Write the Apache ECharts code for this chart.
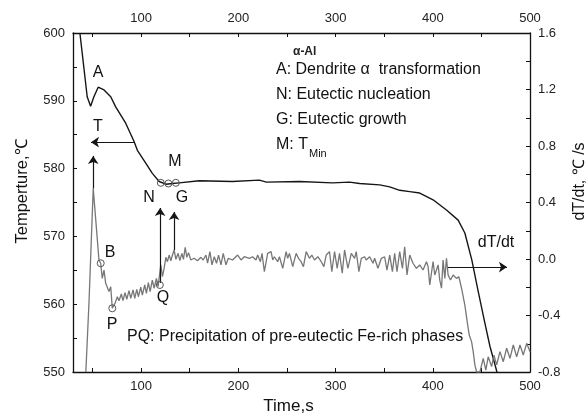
<!DOCTYPE html>
<html><head><meta charset="utf-8">
<script src="https://cdn.jsdelivr.net/npm/echarts@6.0.0/dist/echarts.min.js"></script>
<style>html,body{margin:0;padding:0;background:#fff;overflow:hidden}#c{width:588px;height:417px}</style>
</head><body><div id="c"></div>
<script>
// ---- data ----
const xTickLabels = [100, 200, 300, 400, 500];
const xTicks = [50, 100, 150, 200, 250, 300, 350, 400, 450, 500];

// Temperature curve (left axis)
const tTime = [37.1, 44.6, 48.1, 51.5, 55.9, 61.9, 68.8, 73.9, 84.2, 92.8, 96.2, 104.8, 111.6, 118.6, 125.5, 132.3, 139.2, 159.8, 193.8, 221.6, 228.9, 262.9, 296.9, 314.4, 324.7, 345.4, 355.7, 366, 376.3, 386.6, 400.3, 414.1, 426.1, 433, 440.2, 446.4, 453.6, 458.8, 466];
const tTemp = [600, 590.6, 589.2, 590.6, 592.0, 591.6, 590.6, 589.1, 586.7, 584.0, 582.7, 580.8, 579.3, 578.1, 577.7, 577.8, 577.9, 578.2, 578.1, 578.3, 578.0, 578.1, 577.9, 578.0, 577.8, 577.6, 577.3, 576.8, 576.6, 576.4, 575.4, 573.9, 572.4, 570.5, 566.5, 562.1, 557.2, 553.8, 550];

// dT/dt curve (right axis)
const dTime = [43.2, 46.5, 50.8, 56.7, 58.5, 60.1, 61.9, 63.6, 65.3, 67.0, 68.8, 70.4, 73.2, 75.6, 77.3, 79.7, 81.4, 83.5, 85.3, 87.6, 89.4, 91.8, 93.5, 95.6, 97.2, 99.7, 101.3, 103.8, 105.5, 107.5, 109.3, 111.6, 113.4, 115.8, 117.5, 119.3,
  120.3, 122, 123.7, 125.5, 127.1, 128.9, 130.6, 132.3, 134, 135.8, 138.1, 139.9, 142, 143.6, 145.4, 147.1, 148.8, 151.2, 154.6, 158, 161.5, 163.9, 166.7, 168.4, 170.8, 172.9, 175.3, 177.6, 179.7, 182.2, 184.5, 187.3, 189.7,
  190.7, 194.1, 199.3, 202.8, 206.2, 211.3, 214.7, 218.2, 219.9, 222.7, 224.4, 226.8, 230.2, 233.7, 235.4, 237.1, 240.5, 242.3, 245.7, 249.2, 250.8, 252.6, 256, 259.5, 261.9, 264.6, 267, 269.8, 273.2, 275.6, 278.4, 281.8, 285.3, 288, 290.4, 293.8, 296.2, 299, 301.7, 304.1, 306.9, 309.3, 312.7, 316.2, 319.6, 321.3, 324, 326.5, 329.9, 331.6, 335.1, 338.5, 340.2, 343.6, 347.1, 350.5,
  352.9, 355.7, 358.5, 360.8, 363.2, 366, 368.8, 371.1, 373.5, 376.3, 379.7, 383.2, 386.6, 390, 393.5, 395.2, 396.9, 400.3, 402.1, 405.5, 407.2, 409, 410.6, 412.4, 414.1, 415.8, 418.2, 420.9, 424.4, 426.8, 429.6, 433, 435.4, 437.5, 439.9, 441.6, 443.3, 445.1,
  448.5, 451.9, 454.6, 457, 460.5, 462.9, 465.7, 469.1, 472.5, 476, 479.4, 482.8, 486.3, 489.7, 493.1, 496.6, 500];
const dValue = [-0.80, -0.30, 0.50, -0.007, -0.03, -0.137, -0.078, -0.172, -0.16, -0.23, -0.196, -0.349, -0.314, -0.267, -0.295, -0.248, -0.295, -0.238, -0.285, -0.224, -0.278, -0.219, -0.278, -0.215, -0.267, -0.2, -0.255, -0.184, -0.243, -0.168, -0.231, -0.149, -0.207, -0.137, -0.196, -0.184,
  -0.042, -0.125, -0.066, 0.012, -0.019, 0.028, -0.012, 0.028, 0.064, -0.002, 0.04, -0.012, 0.04, -0.002, 0.083, 0.012, 0.045, -0.007, 0.005, -0.012, 0.012, -0.007, 0.028, -0.03, 0.052, -0.042, 0.016, -0.03, 0.028, -0.042, 0.04, -0.042, 0.005,
  0.016, -0.007, 0.028, -0.007, 0.016, 0.005, 0.016, -0.007, 0.028, -0.019, 0.04, -0.09, 0.04, 0.052, -0.007, 0.016, -0.019, 0.016, -0.066, 0.052, 0.005, 0.04, -0.054, 0.04, 0.005, -0.019, -0.054, 0.052, 0.005, 0.028, -0.007, 0.016, -0.019, -0.054, 0.028, 0.052, -0.09, 0.052, -0.066, 0.04, -0.101, 0.064, -0.066, 0.04, 0.005, 0.052, -0.09, 0.005, 0.016, -0.007, 0.016, -0.03, 0.005, -0.066, 0.005, 0.016,
  -0.078, 0.028, -0.09, 0.04, -0.09, 0.052, -0.066, 0.087, -0.113, 0.028, -0.03, -0.066, -0.042, -0.078, -0.019, -0.054, -0.184, -0.019, -0.113, -0.042, -0.149, -0.207, -0.007, -0.137, 0.005, -0.113, -0.149, -0.113, -0.137, -0.125, -0.207, -0.326, -0.444, -0.538, -0.585, -0.656, -0.75, -0.8,
  -0.8, -0.703, -0.786, -0.692, -0.762, -0.68, -0.75, -0.656, -0.727, -0.632, -0.703, -0.609, -0.692, -0.609, -0.68, -0.597, -0.656];

// annotation anchors (data coordinates)
const mPoints = [[120.3, 577.9], [128.1, 577.8], [135.8, 577.9]];
const bpqPoints = [[58.5, -0.03], [70.4, -0.349], [119.3, -0.184]];

const FONT = 'Arial, "Liberation Sans", Helvetica, sans-serif';
const chart = echarts.init(document.getElementById('c'), null, {renderer: 'canvas', width: 588, height: 417});

const axisCommon = {
  axisLine: {show: true, onZero: false, lineStyle: {color: '#111', width: 1.3}},
  splitLine: {show: false},
  axisLabel: {color: '#222', fontSize: 13, fontFamily: FONT, margin: 8}
};

const lineArrow = (a, b) => [{coord: a}, {coord: b}];
const lbl = (x, y, text, extra) => ({type: 'text', x: x, y: y, style: Object.assign({text: text, fontSize: 16, fontFamily: FONT, fill: '#111', align: 'center', verticalAlign: 'middle'}, extra || {})});

chart.setOption({
  animation: false,
  backgroundColor: '#fff',
  grid: {left: 73, right: 58, top: 33, bottom: 45, containLabel: false, outerBoundsMode: 'none'},
  xAxis: [
    Object.assign({}, axisCommon, {
      type: 'value', position: 'bottom', min: 30, max: 500,
      axisTick: {show: true, inside: true, length: 4, customValues: xTicks, lineStyle: {color: '#111'}},
      axisLabel: Object.assign({}, axisCommon.axisLabel, {customValues: xTickLabels}),
      name: 'Time,s', nameLocation: 'middle', nameGap: 23,
      nameTextStyle: {fontSize: 17, color: '#111', fontFamily: FONT, padding: [0, 26, 0, 0]}
    }),
    Object.assign({}, axisCommon, {
      type: 'value', position: 'top', min: 30, max: 500,
      axisTick: {show: true, inside: true, length: 4, customValues: xTicks, lineStyle: {color: '#111'}},
      axisLabel: Object.assign({}, axisCommon.axisLabel, {customValues: xTickLabels})
    })
  ],
  yAxis: [
    Object.assign({}, axisCommon, {
      type: 'value', position: 'left', min: 550, max: 600, interval: 10,
      axisTick: {show: true, inside: true, length: 4, lineStyle: {color: '#111'}},
      minorTick: {show: true, splitNumber: 2, length: 4, lineStyle: {color: '#111'}},
      name: 'Temperture,℃', nameLocation: 'middle', nameGap: 42, nameRotate: 90,
      nameTextStyle: {fontSize: 16.5, color: '#111', fontFamily: FONT, padding: [0, 0, 0, 22]}
    }),
    Object.assign({}, axisCommon, {
      type: 'value', position: 'right', min: -0.8, max: 1.6, interval: 0.4,
      axisTick: {show: true, inside: true, length: 4, lineStyle: {color: '#111'}},
      minorTick: {show: true, splitNumber: 2, length: 4, lineStyle: {color: '#111'}},
      axisLabel: Object.assign({}, axisCommon.axisLabel, {
        formatter: v => (Math.abs(v) < 1e-9 ? '0.0' : v.toFixed(1))
      }),
      name: 'dT/dt, ℃ /s', nameLocation: 'middle', nameGap: 39, nameRotate: 90,
      nameTextStyle: {fontSize: 16, color: '#111', fontFamily: FONT, padding: [0, 0, 0, 42]}
    })
  ],
  series: [
    {
      type: 'line', name: 'T', xAxisIndex: 0, yAxisIndex: 0,
      data: tTime.map((t, i) => [t, tTemp[i]]),
      showSymbol: false, clip: true,
      lineStyle: {color: '#151515', width: 1.4},
      markLine: {
        silent: true, symbol: ['none', 'arrow'], symbolSize: 8,
        label: {show: false},
        lineStyle: {color: '#151515', width: 1.2, type: 'solid'},
        data: [lineArrow([92.8, 583.9], [48.5, 583.9])]
      },
      markPoint: {
        silent: true, symbol: 'circle', symbolSize: 7,
        itemStyle: {color: 'rgba(0,0,0,0)', borderColor: '#555', borderWidth: 1},
        label: {show: false},
        data: mPoints.map(p => ({coord: p}))
      }
    },
    {
      type: 'line', name: 'dT/dt', xAxisIndex: 0, yAxisIndex: 1,
      data: dTime.map((t, i) => [t, dValue[i]]),
      showSymbol: false, clip: true,
      lineStyle: {color: '#777', width: 1.3},
      markLine: {
        silent: true, symbol: ['none', 'arrow'], symbolSize: 8,
        label: {show: false},
        lineStyle: {color: '#151515', width: 1.2, type: 'solid'},
        data: [
          lineArrow([50.8, 0.5], [50.8, 0.73]),
          lineArrow([119.6, -0.17], [119.6, 0.361]),
          lineArrow([134, 0.064], [134, 0.333]),
          lineArrow([415.5, -0.057], [476.3, -0.057])
        ]
      },
      markPoint: {
        silent: true, symbol: 'circle', symbolSize: 7,
        itemStyle: {color: 'rgba(0,0,0,0)', borderColor: '#555', borderWidth: 1},
        label: {show: false},
        data: bpqPoints.map(p => ({coord: p}))
      }
    }
  ],
  graphic: [
    lbl(98, 73, 'A'),
    lbl(98, 127, 'T'),
    lbl(175, 162, 'M'),
    lbl(149, 198, 'N'),
    lbl(182, 198, 'G'),
    lbl(110, 253, 'B'),
    lbl(112, 325, 'P'),
    lbl(163, 298, 'Q'),
    lbl(496, 243, 'dT/dt'),
    lbl(293, 52, 'α-Al', {fontSize: 12, fontWeight: 'bold', fill: '#222', align: 'left'}),
    lbl(276, 70, 'A: Dendrite α  transformation', {align: 'left'}),
    lbl(276, 95, 'N: Eutectic nucleation', {align: 'left'}),
    lbl(276, 120, 'G: Eutectic growth', {align: 'left'}),
    lbl(276, 145, 'M: T', {align: 'left'}),
    lbl(309, 154, 'Min', {fontSize: 11, align: 'left'}),
    lbl(127, 337, 'PQ: Precipitation of pre-eutectic Fe-rich phases', {align: 'left'})
  ]
});
</script>
</body></html>
